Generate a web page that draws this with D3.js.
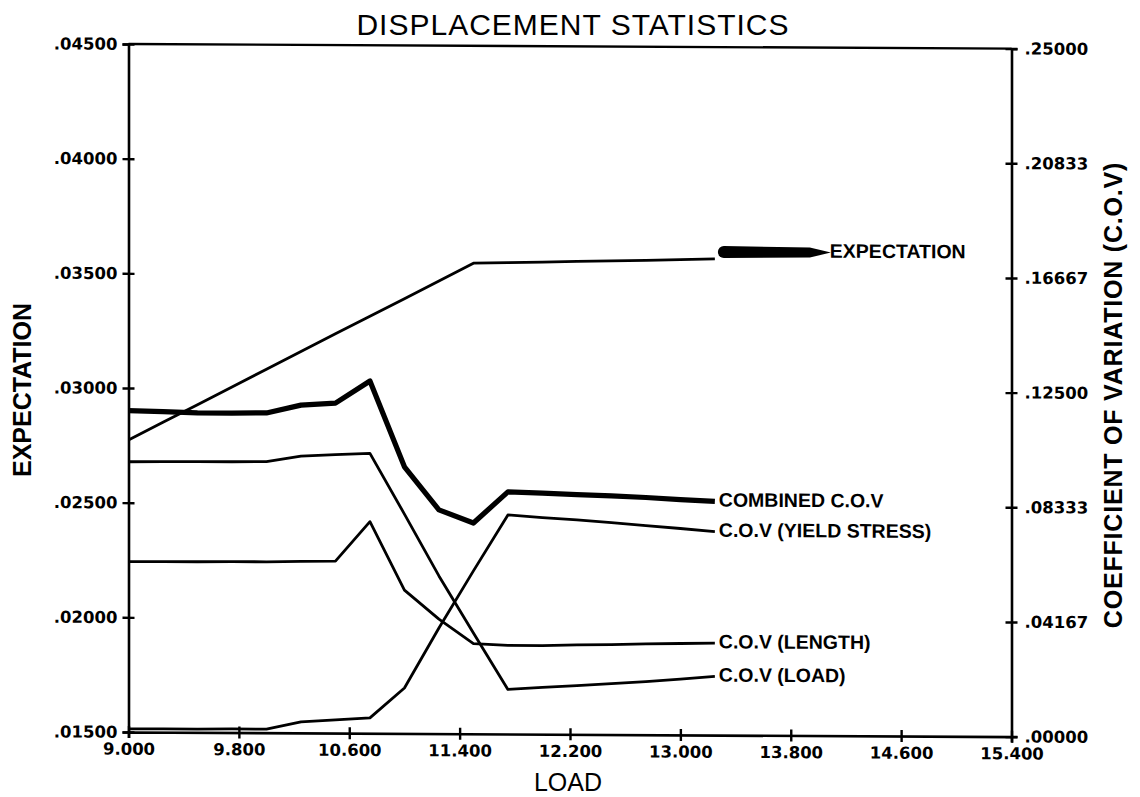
<!DOCTYPE html>
<html>
<head>
<meta charset="utf-8">
<script src="https://cdn.jsdelivr.net/npm/d3@7"></script>
<style>
  html, body { margin: 0; padding: 0; background: #fff; }
  svg { display: block; }
  .tick-label { font-family: "DejaVu Sans", sans-serif; font-weight: bold; font-size: 16.5px; fill: #000; }
  .series-label { font-family: "Liberation Sans", Arial, sans-serif; font-weight: bold; font-size: 19.5px; fill: #000; }
  .axis-title { font-family: "Liberation Sans", Arial, sans-serif; font-size: 25px; fill: #000; }
</style>
</head>
<body>
<svg id="chart" width="1140" height="797"></svg>
<script>
// Load steps (x axis)
const loads = [9.0, 9.25, 9.5, 9.75, 10.0, 10.25, 10.5, 10.75, 11.0, 11.25, 11.5, 11.75, 12.0, 12.25, 12.5, 12.75, 13.0, 13.25];

// Expected displacement (left axis)
const expectation = [0.02773, 0.02851, 0.02929, 0.03007, 0.03085, 0.03163, 0.03241, 0.03318, 0.03396, 0.03474, 0.03552, 0.03555, 0.03558, 0.03562, 0.03565, 0.03568, 0.03572, 0.03576];

// Coefficients of variation (right axis)
const covCombined = [0.1168, 0.1165, 0.1161, 0.1161, 0.1162, 0.1191, 0.1199, 0.1280, 0.0969, 0.0813, 0.0766, 0.0880, 0.0876, 0.0871, 0.0867, 0.0862, 0.0855, 0.0849];
const covYield    = [0.0011, 0.0012, 0.0012, 0.0013, 0.0013, 0.0040, 0.0048, 0.0056, 0.0165, 0.0384, 0.0592, 0.0796, 0.0787, 0.0779, 0.0770, 0.0760, 0.0750, 0.0739];
const covLength   = [0.0619, 0.0620, 0.0620, 0.0621, 0.0621, 0.0623, 0.0625, 0.0769, 0.0521, 0.0416, 0.0328, 0.0322, 0.0322, 0.0325, 0.0327, 0.0330, 0.0332, 0.0334];
const covLoad     = [0.0982, 0.0983, 0.0984, 0.0984, 0.0985, 0.1006, 0.1012, 0.1017, 0.0797, 0.0573, 0.0366, 0.0162, 0.0170, 0.0177, 0.0185, 0.0193, 0.0203, 0.0213];

// Axis ticks
const xTicks = [9.0, 9.8, 10.6, 11.4, 12.2, 13.0, 13.8, 14.6, 15.4];
const leftTicks = [0.015, 0.020, 0.025, 0.030, 0.035, 0.040, 0.045];
const rightTicks = [0, 0.25 / 6, 0.5 / 6, 0.75 / 6, 1 / 6, 1.25 / 6, 0.25];

// Series names as printed at the line ends
const covNames = ["COMBINED C.O.V", "C.O.V (YIELD STRESS)", "C.O.V (LENGTH)", "C.O.V (LOAD)"];
const expName = "EXPECTATION";

const titleText = "DISPLACEMENT STATISTICS";
const xTitle = "LOAD";
const yLeftTitle = "EXPECTATION";
const yRightTitle = "COEFFICIENT OF VARIATION (C.O.V)";

const svg = d3.select("#chart");
svg.append("rect").attr("width", 1140).attr("height", 797).attr("fill", "#fff");

const W = 883, H = 688;
const plot = svg.append("g").attr("transform", "translate(128.5,44) skewY(0.3)");

const x = d3.scaleLinear().domain([9.0, 15.4]).range([0, W]);
const yL = d3.scaleLinear().domain([0.015, 0.045]).range([H, 0]);
const yR = d3.scaleLinear().domain([0, 0.25]).range([H, 0]);

const dropZero = s => s.replace(/^0\./, ".");

// frame top line
plot.append("line").attr("x1", 0).attr("x2", W).attr("y1", 0).attr("y2", 0)
  .attr("stroke", "#000").attr("stroke-width", 2.4);

function styleAxis(g, crossX, crossY) {
  g.select(".domain").attr("stroke", "#000").attr("stroke-width", 2.6);
  g.selectAll(".tick line").attr("stroke", "#000").attr("stroke-width", 2.4)
    .attr("x1", crossX ? -6 : null).attr("x2", crossX ? 6 : null)
    .attr("y1", crossY ? -6 : null).attr("y2", crossY ? 6 : null);
  g.selectAll(".tick text").attr("class", "tick-label");
}

// bottom axis
plot.append("g").attr("transform", `translate(0,${H})`)
  .call(d3.axisBottom(x).tickValues(xTicks).tickSizeOuter(0).tickSize(6).tickPadding(5)
    .tickFormat(d3.format(".3f")))
  .call(g => styleAxis(g, false, true));

// left axis
plot.append("g")
  .call(d3.axisLeft(yL).tickValues(leftTicks).tickSizeOuter(0).tickSize(6).tickPadding(5)
    .tickFormat(d => dropZero(d3.format(".5f")(d))))
  .call(g => styleAxis(g, true, false));

// right axis
plot.append("g").attr("transform", `translate(${W},0)`)
  .call(d3.axisRight(yR).tickValues(rightTicks).tickSizeOuter(0).tickSize(6).tickPadding(7)
    .tickFormat(d => dropZero(d3.format(".5f")(d))))
  .call(g => styleAxis(g, true, false));

// lines
const lineL = d3.line().x((d, i) => x(loads[i])).y(d => yL(d));
const lineR = d3.line().x((d, i) => x(loads[i])).y(d => yR(d));

plot.append("path").datum(expectation).attr("d", lineL)
  .attr("fill", "none").attr("stroke", "#000").attr("stroke-width", 2.8).attr("stroke-linejoin", "round");

const covSeries = [covCombined, covYield, covLength, covLoad];
covSeries.forEach((s, k) => {
  plot.append("path").datum(s).attr("d", lineR)
    .attr("fill", "none").attr("stroke", "#000")
    .attr("stroke-width", k === 0 ? 5.2 : 2.8).attr("stroke-linejoin", "round");
});

// labels at line ends
const last = loads.length - 1;
covSeries.forEach((s, k) => {
  plot.append("text").attr("class", "series-label")
    .attr("x", x(loads[last]) + 4).attr("y", yR(s[last]))
    .attr("dominant-baseline", "middle")
    .text(covNames[k]);
});

// expectation label with its heavy leader
const ex = x(loads[last]), ey = yL(expectation[last]) - 7;
plot.append("path")
  .attr("d", `M${ex + 9},${ey - 6} L${ex + 95},${ey - 5} L${ex + 116},${ey} L${ex + 95},${ey + 5} L${ex + 9},${ey + 6} A6,6 0 0 1 ${ex + 9},${ey - 6} Z`)
  .attr("fill", "#000");
plot.append("text").attr("class", "series-label")
  .attr("x", ex + 115).attr("y", ey)
  .attr("dominant-baseline", "middle")
  .text(expName);

// titles
svg.append("text").attr("x", 573).attr("y", 35).attr("text-anchor", "middle")
  .attr("font-family", "Liberation Sans, Arial, sans-serif").attr("font-size", 30)
  .attr("letter-spacing", 1)
  .text(titleText);

svg.append("text").attr("class", "axis-title").attr("x", 568).attr("y", 791)
  .attr("text-anchor", "middle").attr("font-size", 22).text(xTitle);

svg.append("text").attr("class", "axis-title")
  .attr("transform", "translate(31,390) rotate(-90)")
  .attr("text-anchor", "middle").attr("font-weight", "bold").attr("font-size", 24).text(yLeftTitle);

svg.append("text").attr("class", "axis-title")
  .attr("transform", "translate(1122,395) rotate(-90)")
  .attr("text-anchor", "middle").attr("font-weight", "bold").attr("font-size", 22).attr("letter-spacing", 0.8)
  .text(yRightTitle);
</script>
</body>
</html>
